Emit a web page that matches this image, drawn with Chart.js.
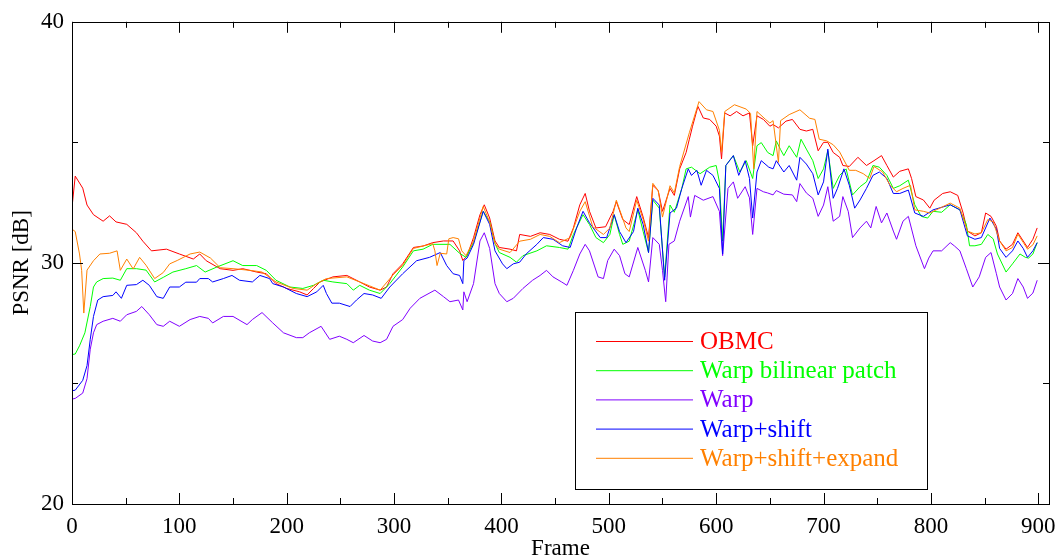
<!DOCTYPE html>
<html>
<head>
<meta charset="utf-8">
<script src="https://cdn.jsdelivr.net/npm/chart.js@4.4.1/dist/chart.umd.min.js"></script>
<style>
  html, body { margin: 0; padding: 0; background: #fff; }
  #wrap { width: 1057px; height: 560px; }
</style>
</head>
<body>
<div id="wrap"><canvas id="psnrChart" width="1057" height="560"></canvas></div>
<script>
// values (frame -> PSNR in dB)
const obmcFrames = [0, 3, 10, 14, 20, 29, 35, 41, 51, 60, 66, 74, 88, 100, 113, 119, 125, 138, 150, 159, 172, 181, 190, 200, 212, 219, 225, 231, 243, 256, 268, 277, 287, 293, 299, 308, 318, 327, 336, 346, 355, 361, 364, 368, 374, 380, 384, 389, 394, 398, 408, 414, 417, 427, 436, 445, 454, 462, 467, 473, 478, 482, 488, 497, 504, 507, 513, 519, 526, 532, 537, 541, 546, 550, 557, 561, 566, 572, 575, 578, 583, 588, 594, 600, 603, 605, 608, 613, 619, 625, 631, 634, 638, 644, 650, 653, 658, 665, 671, 678, 684, 690, 695, 700, 704, 709, 715, 718, 724, 732, 740, 747, 754, 759, 765, 771, 779, 782, 786, 793, 799, 803, 811, 818, 825, 830, 834, 841, 847, 851, 856, 861, 864, 870, 876, 881, 886, 890, 895, 899];
const obmcPsnr = [32.3, 33.6, 33.1, 32.4, 32.0, 31.73, 31.95, 31.7, 31.6, 31.25, 30.9, 30.5, 30.57, 30.37, 30.16, 30.37, 30.09, 29.76, 29.69, 29.76, 29.62, 29.55, 29.14, 28.94, 28.8, 28.67, 28.94, 29.21, 29.42, 29.48, 29.21, 29.0, 28.87, 29.0, 29.55, 29.96, 30.64, 30.7, 30.84, 30.91, 30.91, 30.5, 30.1, 30.3, 31.05, 32.0, 32.41, 31.86, 30.91, 30.64, 30.57, 30.5, 31.18, 31.1, 31.25, 31.18, 30.98, 30.9, 31.45, 32.41, 32.88, 32.14, 31.45, 31.5, 32.14, 32.54, 31.8, 31.59, 32.75, 31.9, 31.05, 33.22, 33.0, 32.14, 33.09, 32.8, 33.9, 34.58, 35.13, 35.67, 36.49, 36.01, 35.95, 35.67, 35.26, 34.31, 36.22, 36.1, 36.28, 36.1, 36.22, 34.86, 36.1, 35.95, 35.67, 35.74, 35.6, 35.88, 35.95, 35.54, 35.47, 35.54, 34.65, 35.0, 35.0, 34.58, 34.38, 34.04, 34.0, 34.38, 34.04, 34.24, 34.45, 34.04, 33.56, 33.8, 33.9, 33.5, 32.75, 32.61, 32.27, 32.6, 32.88, 32.95, 32.8, 32.07, 31.32, 31.12, 31.25, 32.07, 31.93, 31.52, 30.91, 30.57, 30.77, 31.25, 30.91, 30.64, 30.98, 31.45];

const bilinFrames = [0, 3, 7, 12, 17, 20, 23, 29, 38, 45, 51, 60, 69, 77, 85, 94, 106, 116, 124, 135, 150, 159, 172, 181, 190, 203, 215, 225, 234, 243, 256, 262, 268, 277, 287, 296, 308, 318, 327, 336, 352, 361, 367, 374, 383, 389, 394, 398, 408, 414, 420, 433, 442, 454, 462, 467, 476, 482, 488, 495, 501, 505, 510, 513, 519, 527, 532, 537, 541, 547, 552, 557, 561, 568, 572, 577, 585, 594, 600, 603, 606, 609, 616, 622, 628, 634, 638, 642, 648, 653, 656, 660, 663, 668, 675, 679, 684, 690, 695, 700, 704, 709, 715, 721, 727, 734, 740, 746, 752, 759, 765, 771, 779, 785, 791, 797, 802, 810, 818, 827, 833, 836, 841, 847, 853, 858, 862, 870, 876, 883, 888, 891, 895, 899];
const bilinPsnr = [26.2, 26.22, 26.56, 27.1, 28.19, 29.0, 29.21, 29.35, 29.37, 29.28, 29.76, 29.76, 29.7, 29.21, 29.4, 29.62, 29.76, 29.89, 29.62, 29.83, 30.09, 29.89, 29.89, 29.69, 29.28, 29.0, 28.94, 29.07, 29.28, 29.21, 29.14, 28.87, 29.07, 28.87, 28.73, 29.14, 29.83, 30.5, 30.57, 30.77, 30.77, 30.4, 30.23, 30.84, 32.14, 31.7, 30.8, 30.43, 30.23, 30.03, 30.3, 30.5, 30.71, 30.64, 30.57, 31.18, 32.0, 31.59, 31.05, 30.84, 31.18, 32.0, 31.18, 30.77, 30.9, 32.2, 31.3, 30.43, 32.61, 32.27, 29.42, 32.4, 32.1, 33.09, 33.9, 33.97, 33.7, 33.97, 34.04, 33.36, 30.91, 34.04, 34.45, 33.77, 34.24, 33.5, 34.86, 34.99, 34.58, 34.45, 35.06, 34.7, 34.45, 34.86, 34.38, 35.13, 34.72, 34.24, 33.5, 33.9, 34.65, 33.09, 33.63, 33.9, 32.82, 33.16, 33.36, 34.04, 33.97, 33.63, 33.09, 33.2, 33.43, 32.41, 31.93, 31.86, 32.14, 32.1, 32.41, 32.2, 31.59, 30.71, 30.71, 30.77, 31.18, 31.0, 30.37, 29.62, 29.96, 30.37, 30.23, 30.2, 30.37, 30.84];

const warpFrames = [0, 3, 10, 14, 17, 20, 23, 29, 38, 45, 51, 60, 65, 72, 79, 85, 91, 100, 110, 119, 127, 131, 141, 150, 163, 168, 177, 187, 197, 209, 215, 221, 232, 240, 249, 256, 262, 272, 280, 287, 293, 299, 308, 315, 324, 338, 346, 352, 360, 364, 365, 368, 374, 380, 384, 389, 394, 398, 405, 411, 420, 429, 436, 442, 448, 456, 461, 467, 473, 478, 482, 490, 495, 499, 505, 510, 515, 519, 527, 534, 537, 541, 547, 550, 553, 556, 561, 566, 574, 576, 580, 588, 597, 603, 606, 611, 616, 620, 627, 631, 634, 638, 644, 648, 653, 656, 663, 671, 675, 678, 684, 690, 695, 700, 704, 709, 715, 718, 723, 727, 734, 740, 744, 749, 754, 759, 765, 768, 774, 779, 786, 794, 798, 802, 810, 818, 822, 827, 833, 839, 845, 851, 856, 861, 864, 870, 876, 881, 886, 890, 895, 899];
const warpPsnr = [24.35, 24.38, 24.6, 25.2, 26.42, 27.1, 27.44, 27.58, 27.7, 27.58, 27.85, 27.99, 28.19, 27.85, 27.44, 27.37, 27.58, 27.37, 27.65, 27.78, 27.7, 27.51, 27.78, 27.78, 27.44, 27.65, 27.94, 27.51, 27.1, 26.9, 26.9, 27.1, 27.37, 26.83, 26.96, 26.83, 26.69, 26.99, 26.76, 26.69, 26.83, 27.37, 27.65, 28.12, 28.53, 28.87, 28.6, 28.39, 28.46, 28.05, 28.8, 28.39, 29.14, 30.91, 31.25, 30.6, 29.14, 28.73, 28.39, 28.53, 28.94, 29.28, 29.48, 29.69, 29.42, 29.21, 29.07, 29.69, 30.37, 30.77, 30.5, 29.42, 29.35, 30.1, 30.57, 30.3, 29.55, 29.42, 30.64, 29.69, 29.21, 31.05, 30.77, 29.69, 28.39, 30.77, 30.91, 31.73, 32.75, 31.9, 32.8, 32.6, 32.75, 32.14, 30.3, 33.09, 33.36, 32.68, 33.16, 32.7, 31.18, 33.09, 32.95, 32.9, 32.82, 33.0, 32.85, 32.82, 32.54, 33.29, 32.9, 32.68, 31.93, 32.4, 33.16, 31.73, 31.93, 32.75, 32.14, 31.05, 31.45, 31.73, 31.45, 32.34, 31.66, 32.07, 31.32, 30.98, 31.73, 31.93, 30.71, 29.76, 30.2, 30.5, 30.5, 30.84, 30.7, 30.5, 29.76, 29.0, 29.42, 30.23, 30.43, 29.55, 29.0, 28.46, 28.73, 29.35, 29.0, 28.53, 28.75, 29.28];

const shiftFrames = [0, 3, 10, 14, 17, 20, 24, 29, 38, 41, 46, 51, 60, 66, 72, 79, 85, 91, 100, 106, 116, 119, 127, 131, 141, 149, 156, 168, 175, 184, 187, 197, 209, 219, 228, 234, 237, 242, 249, 259, 265, 272, 280, 288, 296, 308, 321, 333, 343, 349, 355, 361, 364, 365, 368, 374, 383, 389, 394, 401, 405, 411, 417, 423, 433, 439, 448, 457, 464, 470, 476, 482, 492, 498, 505, 510, 516, 523, 527, 532, 537, 541, 547, 552, 557, 563, 568, 574, 577, 582, 586, 591, 597, 603, 606, 609, 616, 621, 627, 631, 634, 638, 642, 649, 653, 656, 663, 668, 675, 678, 684, 690, 695, 700, 704, 709, 713, 719, 724, 729, 734, 740, 746, 752, 759, 765, 771, 779, 785, 793, 802, 818, 827, 834, 841, 847, 855, 861, 864, 870, 876, 881, 886, 890, 895, 899];
const shiftPsnr = [24.7, 24.72, 25.13, 25.74, 26.83, 27.78, 28.46, 28.6, 28.65, 28.8, 28.53, 29.07, 29.1, 29.28, 29.07, 28.6, 28.53, 29.0, 29.0, 29.2, 29.2, 29.35, 29.35, 29.21, 29.35, 29.48, 29.28, 29.21, 29.48, 29.35, 29.14, 29.0, 28.73, 28.6, 28.8, 29.07, 28.73, 28.33, 28.33, 28.19, 28.46, 28.73, 28.67, 28.53, 29.0, 29.55, 30.09, 30.23, 30.43, 29.89, 29.55, 29.48, 29.14, 30.1, 30.2, 30.77, 32.14, 31.6, 30.5, 29.96, 29.76, 29.96, 30.03, 30.37, 30.77, 31.05, 30.98, 30.71, 30.64, 31.45, 32.14, 31.66, 31.05, 31.05, 32.0, 31.3, 30.84, 31.3, 32.27, 31.59, 30.43, 32.68, 32.4, 29.28, 32.07, 32.27, 33.09, 33.9, 33.63, 33.84, 33.22, 33.84, 33.63, 33.09, 30.37, 34.04, 34.45, 33.63, 34.24, 33.5, 31.86, 33.77, 34.24, 33.97, 33.9, 34.24, 33.77, 34.04, 33.43, 34.38, 34.1, 33.7, 32.82, 33.36, 34.72, 32.68, 33.09, 33.9, 33.22, 32.27, 32.61, 33.09, 33.63, 33.77, 33.5, 32.88, 32.88, 33.02, 32.07, 31.93, 32.2, 32.41, 32.2, 31.12, 30.98, 31.05, 31.86, 31.4, 30.6, 30.23, 30.5, 30.91, 30.6, 30.23, 30.5, 30.84];

const expandFrames = [0, 3, 7, 9, 11, 14, 20, 26, 35, 42, 45, 51, 57, 63, 69, 77, 85, 91, 98, 110, 119, 129, 138, 150, 166, 177, 190, 206, 219, 228, 237, 256, 268, 277, 287, 299, 308, 318, 327, 336, 338, 340, 343, 349, 351, 355, 360, 363, 367, 374, 383, 389, 394, 398, 408, 417, 427, 436, 445, 454, 464, 473, 478, 485, 495, 501, 507, 516, 519, 526, 532, 537, 541, 546, 550, 557, 561, 566, 575, 584, 591, 597, 603, 605, 608, 617, 628, 632, 635, 638, 646, 650, 653, 658, 660, 668, 678, 687, 692, 696, 703, 709, 715, 724, 730, 737, 743, 747, 755, 762, 768, 774, 781, 785, 793, 799, 805, 818, 827, 834, 841, 847, 853, 858, 864, 870, 876, 881, 886, 890, 895, 899];
const expandPsnr = [31.4, 31.3, 30.37, 29.69, 27.92, 29.7, 30.09, 30.37, 30.4, 30.5, 29.69, 30.16, 29.75, 30.23, 29.9, 29.35, 29.6, 29.96, 30.1, 30.37, 30.45, 30.2, 29.8, 29.76, 29.69, 29.62, 29.21, 28.94, 28.87, 29.14, 29.35, 29.42, 29.21, 29.05, 28.87, 29.5, 29.9, 30.6, 30.7, 30.8, 30.5, 29.89, 30.4, 30.37, 31.0, 31.05, 31.0, 30.5, 30.3, 30.9, 32.34, 31.7, 30.8, 30.57, 30.43, 30.9, 30.98, 31.18, 31.1, 30.84, 31.05, 32.14, 32.54, 31.5, 31.18, 31.45, 32.6, 31.45, 31.3, 32.6, 31.8, 30.9, 33.3, 33.0, 31.9, 33.2, 32.9, 34.0, 35.4, 36.69, 36.35, 36.28, 35.5, 34.6, 36.28, 36.56, 36.38, 36.2, 33.9, 36.28, 35.95, 35.8, 35.9, 34.17, 35.9, 36.15, 36.35, 36.0, 35.95, 35.13, 35.06, 34.9, 34.6, 33.84, 33.84, 33.7, 33.5, 34.0, 33.77, 33.22, 32.95, 33.09, 33.22, 32.2, 32.14, 32.07, 32.2, 32.48, 32.27, 31.32, 31.2, 31.25, 31.8, 31.7, 30.91, 30.5, 30.64, 31.19, 30.85, 30.57, 30.75, 31.12];

const seriesNames = ['OBMC', 'Warp bilinear patch', 'Warp', 'Warp+shift', 'Warp+shift+expand'];
const seriesColors = ['#ff0000', '#00ff00', '#8000ff', '#0000ff', '#ff8000'];

const xMajorTicks = [0, 100, 200, 300, 400, 500, 600, 700, 800, 900];
const xMinorTicks = [50, 150, 250, 350, 450, 550, 650, 750, 850];
const yMajorTicks = [20, 30, 40];
const yMinorTicks = [25, 35];

const FONT = "'Liberation Serif', 'DejaVu Serif', serif";

function toPoints(frames, values) {
  return frames.map((f, i) => ({ x: f, y: values[i] }));
}

const seriesData = [
  toPoints(obmcFrames, obmcPsnr),
  toPoints(bilinFrames, bilinPsnr),
  toPoints(warpFrames, warpPsnr),
  toPoints(shiftFrames, shiftPsnr),
  toPoints(expandFrames, expandPsnr)
];

// orange is drawn last (on top), red first
const drawOrder = [4, 3, 2, 1, 0];

const datasets = seriesNames.map((name, i) => ({
  label: name,
  data: seriesData[i],
  borderColor: seriesColors[i],
  backgroundColor: seriesColors[i],
  borderWidth: 1,
  pointRadius: 0,
  tension: 0,
  fill: false,
  order: drawOrder[i]
}));

// frame box, inward ticks on all four sides, and the boxed legend
const framePlugin = {
  id: 'frameAndLegend',
  afterDraw(chart) {
    const { ctx, chartArea: a, scales } = chart;
    const xs = scales.x;
    const ys = scales.y;
    ctx.save();
    ctx.strokeStyle = '#000';
    ctx.lineWidth = 1;

    const tick = (x1, y1, x2, y2) => {
      ctx.beginPath();
      ctx.moveTo(x1, y1);
      ctx.lineTo(x2, y2);
      ctx.stroke();
    };
    const majorLen = 11;
    const minorLen = 6;
    xMajorTicks.concat(xMinorTicks).forEach((v) => {
      const len = xMajorTicks.includes(v) ? majorLen : minorLen;
      const px = Math.round(xs.getPixelForValue(v)) + 0.5;
      tick(px, a.bottom, px, a.bottom - len);
      tick(px, a.top, px, a.top + len);
    });
    yMajorTicks.concat(yMinorTicks).forEach((v) => {
      const len = yMajorTicks.includes(v) ? majorLen : minorLen;
      const py = Math.round(ys.getPixelForValue(v)) + 0.5;
      tick(a.left, py, a.left + len, py);
      tick(a.right, py, a.right - len, py);
    });
    ctx.strokeRect(Math.round(a.left) + 0.5, Math.round(a.top) + 0.5,
      Math.round(a.right - a.left), Math.round(a.bottom - a.top));

    // legend box
    const box = { left: 575.5, top: 312.5, width: 352, height: 177 };
    ctx.fillStyle = '#fff';
    ctx.fillRect(box.left, box.top, box.width, box.height);
    ctx.strokeRect(box.left, box.top, box.width, box.height);
    ctx.font = `25px ${FONT}`;
    ctx.textBaseline = 'middle';
    ctx.textAlign = 'left';
    chart.data.datasets.forEach((ds, i) => {
      const y = 341.5 + i * 29.2;
      ctx.strokeStyle = ds.borderColor;
      tick(596, y, 693, y);
      ctx.fillStyle = ds.borderColor;
      ctx.fillText(ds.label, 700, y + 1);
    });
    ctx.restore();
  }
};

new Chart(document.getElementById('psnrChart'), {
  type: 'line',
  data: { datasets },
  options: {
    responsive: false,
    animation: false,
    layout: { padding: { top: 14, right: 8, left: 0, bottom: 0 } },
    plugins: { legend: { display: false }, tooltip: { enabled: false } },
    scales: {
      x: {
        type: 'linear',
        min: 0,
        max: 910,
        afterBuildTicks: (s) => { s.ticks = xMajorTicks.map((v) => ({ value: v })); },
        afterFit: (s) => {
          s.height = 56;
          s.paddingLeft = 0;
          s.paddingRight = 0;
        },
        grid: { display: false, drawTicks: false, tickLength: 0 },
        border: { display: false },
        ticks: {
          autoSkip: false,
          maxRotation: 0,
          padding: 9,
          color: '#000',
          font: { family: FONT, size: 23 },
          callback: (v) => String(v)
        },
        title: {
          display: true,
          text: 'Frame',
          color: '#000',
          font: { family: FONT, size: 23, lineHeight: 1.0 },
          padding: { top: 0, bottom: 0 }
        }
      },
      y: {
        type: 'linear',
        min: 20,
        max: 40,
        afterBuildTicks: (s) => { s.ticks = yMajorTicks.map((v) => ({ value: v })); },
        afterFit: (s) => { s.width = 72; },
        grid: { display: false, drawTicks: false, tickLength: 0 },
        border: { display: false },
        ticks: {
          autoSkip: false,
          padding: 8,
          color: '#000',
          font: { family: FONT, size: 23 },
          callback: (v) => String(v)
        },
        title: {
          display: true,
          text: 'PSNR [dB]',
          color: '#000',
          font: { family: FONT, size: 23 },
          padding: { top: 8, bottom: 0 }
        }
      }
    }
  },
  plugins: [framePlugin]
});
</script>
</body>
</html>
